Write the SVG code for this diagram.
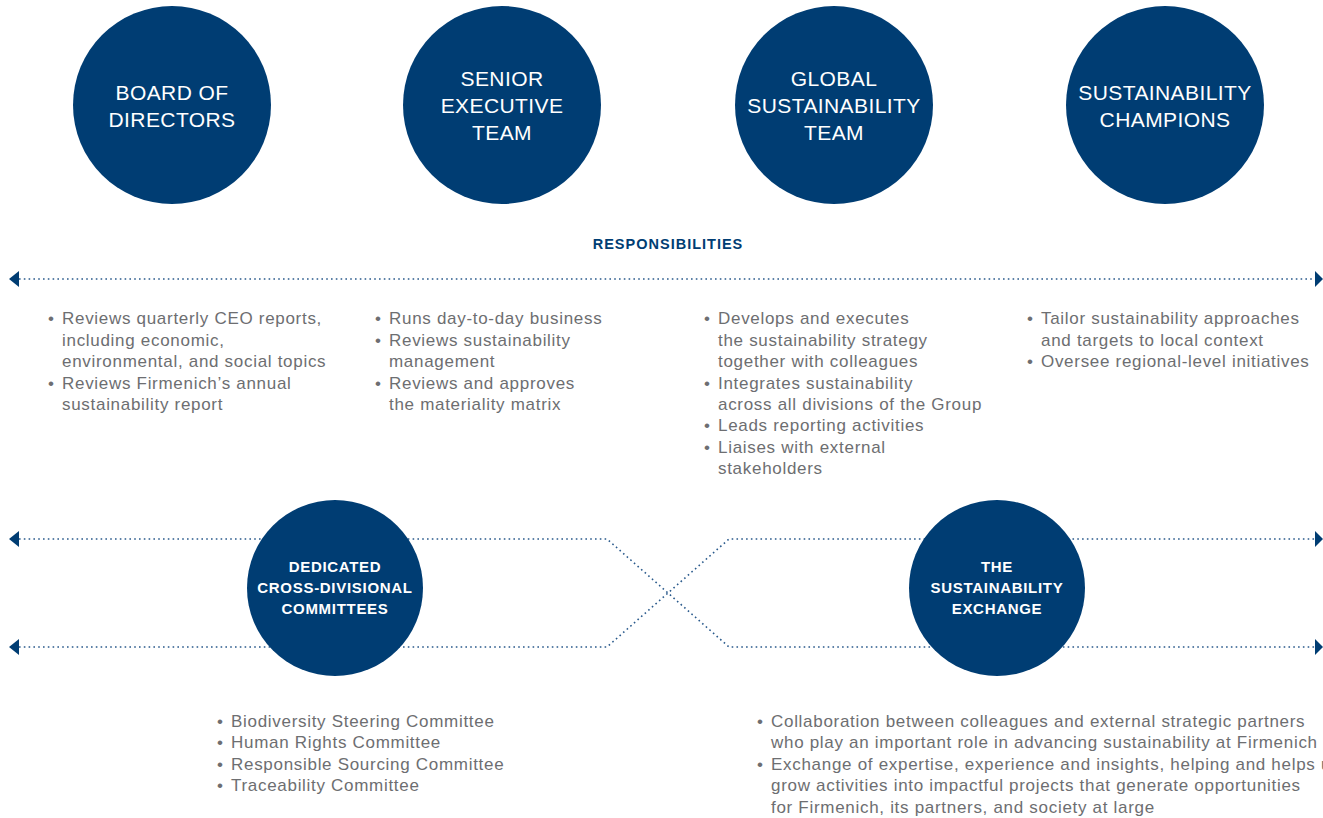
<svg xmlns="http://www.w3.org/2000/svg" width="1323" height="818" viewBox="0 0 1323 818">
<style>
.c{fill:#003d73}
.t1{font-family:"Liberation Sans",Arial,sans-serif;font-size:21px;fill:#fff;text-anchor:middle;letter-spacing:0.4px}
.t2{font-family:"Liberation Sans",Arial,sans-serif;font-size:15px;font-weight:bold;fill:#fff;text-anchor:middle;letter-spacing:0.7px}
.b{font-family:"Liberation Sans",Arial,sans-serif;font-size:17px;fill:#6d6e71;letter-spacing:0.7px}
.h{font-family:"Liberation Sans",Arial,sans-serif;font-size:14.5px;font-weight:bold;fill:#003d73;text-anchor:middle;letter-spacing:1px}
.d{fill:none;stroke:#2a5a8c;stroke-width:1.6;stroke-dasharray:1.6 3.2}
.a{fill:#003d73}
</style>
<g id="connectors">
<path class="d" d="M19 279 H1316"/>
<path class="d" d="M19 539 H607 L729 647 H1316"/>
<path class="d" d="M19 647 H607 L729 539 H1316"/>
<path class="a" d="M9 279 L19 271 V287 Z"/>
<path class="a" d="M1323 279 L1315 271 V287 Z"/>
<path class="a" d="M9 539 L19 531 V547 Z"/>
<path class="a" d="M1323 539 L1315 531 V547 Z"/>
<path class="a" d="M9 647 L19 639 V655 Z"/>
<path class="a" d="M1323 647 L1315 639 V655 Z"/>
</g>
<g id="board">
<circle class="c" cx="172" cy="105" r="99"/>
<text class="t1" x="172" y="100">BOARD OF</text>
<text class="t1" x="172" y="127">DIRECTORS</text>
</g>
<g id="senior">
<circle class="c" cx="502" cy="105" r="99"/>
<text class="t1" x="502" y="86">SENIOR</text>
<text class="t1" x="502" y="113">EXECUTIVE</text>
<text class="t1" x="502" y="140">TEAM</text>
</g>
<g id="global">
<circle class="c" cx="834" cy="105" r="99"/>
<text class="t1" x="834" y="86">GLOBAL</text>
<text class="t1" x="834" y="113">SUSTAINABILITY</text>
<text class="t1" x="834" y="140">TEAM</text>
</g>
<g id="champions">
<circle class="c" cx="1165" cy="105" r="99"/>
<text class="t1" x="1165" y="100">SUSTAINABILITY</text>
<text class="t1" x="1165" y="127">CHAMPIONS</text>
</g>
<g id="responsibilities">
<text class="h" x="668" y="249">RESPONSIBILITIES</text>
</g>
<g id="board-text" class="b">
<text x="48" y="324">•</text><text x="62" y="324">Reviews quarterly CEO reports,</text>
<text x="62" y="346">including economic,</text>
<text x="62" y="367">environmental, and social topics</text>
<text x="48" y="389">•</text><text x="62" y="389">Reviews Firmenich’s annual</text>
<text x="62" y="410">sustainability report</text>
</g>
<g id="senior-text" class="b">
<text x="375" y="324">•</text><text x="389" y="324">Runs day-to-day business</text>
<text x="375" y="346">•</text><text x="389" y="346">Reviews sustainability</text>
<text x="389" y="367">management</text>
<text x="375" y="389">•</text><text x="389" y="389">Reviews and approves</text>
<text x="389" y="410">the materiality matrix</text>
</g>
<g id="global-text" class="b">
<text x="704" y="324">•</text><text x="718" y="324">Develops and executes</text>
<text x="718" y="346">the sustainability strategy</text>
<text x="718" y="367">together with colleagues</text>
<text x="704" y="389">•</text><text x="718" y="389">Integrates sustainability</text>
<text x="718" y="410">across all divisions of the Group</text>
<text x="704" y="431">•</text><text x="718" y="431">Leads reporting activities</text>
<text x="704" y="453">•</text><text x="718" y="453">Liaises with external</text>
<text x="718" y="474">stakeholders</text>
</g>
<g id="champions-text" class="b">
<text x="1027" y="324">•</text><text x="1041" y="324">Tailor sustainability approaches</text>
<text x="1041" y="346">and targets to local context</text>
<text x="1027" y="367">•</text><text x="1041" y="367">Oversee regional-level initiatives</text>
</g>
<g id="committees">
<circle class="c" cx="335" cy="588" r="88"/>
<text class="t2" x="335" y="572">DEDICATED</text>
<text class="t2" x="335" y="593">CROSS-DIVISIONAL</text>
<text class="t2" x="335" y="614">COMMITTEES</text>
</g>
<g id="exchange">
<circle class="c" cx="997" cy="588" r="88"/>
<text class="t2" x="997" y="572">THE</text>
<text class="t2" x="997" y="593">SUSTAINABILITY</text>
<text class="t2" x="997" y="614">EXCHANGE</text>
</g>
<g id="committees-text" class="b">
<text x="217" y="727">•</text><text x="231" y="727">Biodiversity Steering Committee</text>
<text x="217" y="748">•</text><text x="231" y="748">Human Rights Committee</text>
<text x="217" y="770">•</text><text x="231" y="770">Responsible Sourcing Committee</text>
<text x="217" y="791">•</text><text x="231" y="791">Traceability Committee</text>
</g>
<g id="exchange-text" class="b">
<text x="757" y="727">•</text><text x="771" y="727">Collaboration between colleagues and external strategic partners</text>
<text x="771" y="748">who play an important role in advancing sustainability at Firmenich</text>
<text x="757" y="770">•</text><text x="771" y="770">Exchange of expertise, experience and insights, helping and helps us</text>
<text x="771" y="791">grow activities into impactful projects that generate opportunities</text>
<text x="771" y="813">for Firmenich, its partners, and society at large</text>
</g>
</svg>
